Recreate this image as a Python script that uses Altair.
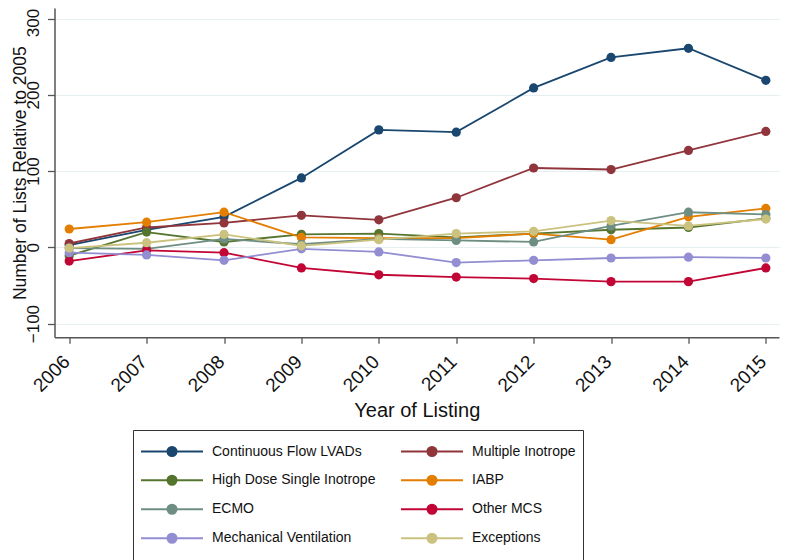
import altair as alt
import pandas as pd

years = list(range(2006, 2016))
series = [
    "Continuous Flow LVADs", "Multiple Inotrope",
    "High Dose Single Inotrope", "IABP",
    "ECMO", "Other MCS",
    "Mechanical Ventilation", "Exceptions",
]
colors = ["#1a476f", "#90353b", "#55752f", "#e37e00",
          "#6e8e84", "#c10534", "#938dd2", "#cac27e"]

lvad = [3, 23, 40, 91, 154, 151, 209, 249, 261, 219]
multiple = [5, 26, 32, 42, 36, 65, 104, 102, 127, 152]
highdose = [-11, 20, 7, 17, 18, 13, 18, 23, 26, 38]
iabp = [24, 33, 46, 13, 12, 12, 18, 10, 40, 51]
ecmo = [-1, -2, 11, 4, 11, 9, 7, 28, 46, 43]
other_mcs = [-18, -4, -7, -27, -36, -39, -41, -45, -45, -27]
mech_vent = [-7, -10, -17, -2, -6, -20, -17, -14, -13, -14]
exceptions = [-1, 6, 17, 2, 10, 18, 21, 35, 28, 37]

values = [lvad, multiple, highdose, iabp, ecmo, other_mcs, mech_vent, exceptions]
rows = []
for i, (name, vals) in enumerate(zip(series, values)):
    for y, v in zip(years, vals):
        rows.append({"year": y, "value": v, "series": name, "order": i})
df = pd.DataFrame(rows)

FONT = "Liberation Sans"
sym_path = "M-1,0H1M-0.15,0a0.15,0.15 0 1,0 0.3,0a0.15,0.15 0 1,0 -0.3,0"

color = alt.Color(
    "series:N",
    scale=alt.Scale(domain=series, range=colors),
    legend=alt.Legend(
        title=None,
        orient="none",
        legendX=78.5,
        legendY=422,
        direction="horizontal",
        columns=2,
        gridAlign="each",
        columnPadding=24,
        rowPadding=0,
        symbolType=sym_path,
        symbolSize=3844,
        symbolStrokeWidth=1.8,
        clipHeight=28.5,
        labelFont=FONT,
        labelFontSize=14,
        labelColor="#111",
        labelOffset=8,
        labelLimit=300,
        padding=7,
        strokeColor="#333",
        fillColor="white",
        symbolOpacity=1,
    ),
)

x = alt.X(
    "year:Q",
    scale=alt.Scale(domain=[2005.81, 2015.17], nice=False, zero=False),
    axis=alt.Axis(
        values=years, format="d", labelAngle=-45, labelAlign="right",
        labelBaseline="middle", labelPadding=15, labelOffset=-3, labelFontSize=19,
        tickSize=6, grid=False, title="Year of Listing", titleFontSize=20,
        titleFontWeight="normal", titleY=78.7, titleBaseline="alphabetic",
        labelFlush=False, labelOverlap=False,
    ),
)
y = alt.Y(
    "value:Q",
    scale=alt.Scale(domain=[-118, 313.8], nice=False, zero=False),
    axis=alt.Axis(
        values=[-100, 0, 100, 200, 300], labelAngle=-90, labelAlign="center",
        labelBaseline="bottom", labelPadding=5, labelFontSize=17,
        labelOffset={"condition": {"test": "datum.value == 300", "value": 4}, "value": 0},
        tickSize=7, grid=True, gridColor="#e6eff2", gridWidth=1.2,
        title="Number of Lists Relative to 2005", titleFontSize=17.5,
        titleFontWeight="normal", titleX=-29, titleBaseline="alphabetic",
        titleAngle=270, labelFlush=False, labelOverlap=False,
    ),
)

chart = alt.Chart(df).mark_line(
    strokeWidth=1.8,
    point=alt.OverlayMarkDef(filled=True, size=85, opacity=1),
).encode(x=x, y=y, color=color, order="year:Q").properties(
    width=724.5, height=329.3,
    autosize=alt.AutoSizeParams(type="none"),
    padding={"left": 46.5, "top": 0, "right": 13, "bottom": 222.7},
).configure_view(stroke=None).configure_axis(
    domainColor="#555", domainWidth=1.5, tickColor="#555", tickWidth=1.3,
    labelFont=FONT, titleFont=FONT, labelColor="#111", titleColor="#111",
)

chart.save("out.html", embed_options={"renderer": "svg", "actions": False})
